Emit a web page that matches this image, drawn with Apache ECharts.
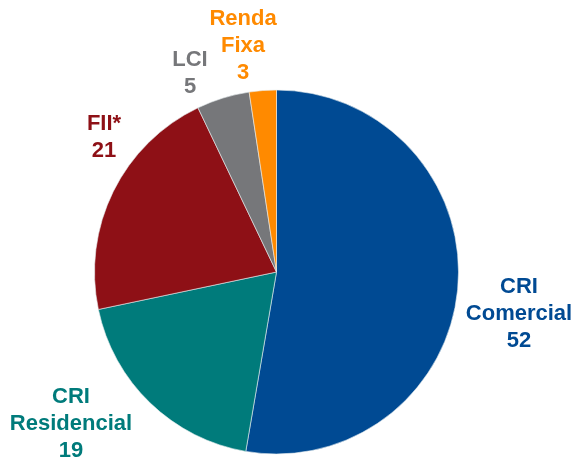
<!DOCTYPE html>
<html>
<head>
<meta charset="utf-8">
<script src="https://cdn.jsdelivr.net/npm/echarts@6/dist/echarts.min.js"></script>
<style>html,body{margin:0;padding:0;background:#fff;}#c{width:576px;height:461px;}</style>
</head>
<body>
<div id="c"></div>
<script>
// slice shares
const categories = ['CRI Comercial', 'CRI Residencial', 'FII*', 'LCI', 'Renda Fixa'];
const values = [52.7, 19.0, 21.2, 4.7, 2.4];
// values printed in the labels
const labelValues = ['52', '19', '21', '5', '3'];
const labelNames = ['CRI\nComercial', 'CRI\nResidencial', 'FII*', 'LCI', 'Renda\nFixa'];
const colors = ['#004A93', '#007B7B', '#8E1016', '#76777A', '#FF8A00'];
const labelPos = [[519, 314], [71, 424], [104, 137], [190, 73], [243, 46]];

const chart = echarts.init(document.getElementById('c'), null, {renderer: 'canvas'});
chart.setOption({
  animation: false,
  series: [{
    type: 'pie',
    center: [276.5, 272],
    radius: [0, 182],
    startAngle: 90,
    clockwise: true,
    itemStyle: {borderColor: '#e8eef0', borderWidth: 0.6},
    labelLine: {show: false},
    label: {
      show: true,
      position: 'outside',
      overflow: 'none',
      width: 200,
      fontFamily: 'Liberation Sans, Arial, sans-serif',
      fontWeight: 'bold',
      fontSize: 22,
      lineHeight: 27,
      align: 'center',
      formatter: p => labelNames[p.dataIndex] + '\n' + labelValues[p.dataIndex]
    },
    labelLayout: p => ({
      x: labelPos[p.dataIndex][0],
      y: labelPos[p.dataIndex][1],
      align: 'center',
      verticalAlign: 'middle'
    }),
    data: categories.map((n, i) => ({
      name: n, value: values[i],
      itemStyle: {color: colors[i]},
      label: {color: colors[i]}
    }))
  }]
});
</script>
</body>
</html>
